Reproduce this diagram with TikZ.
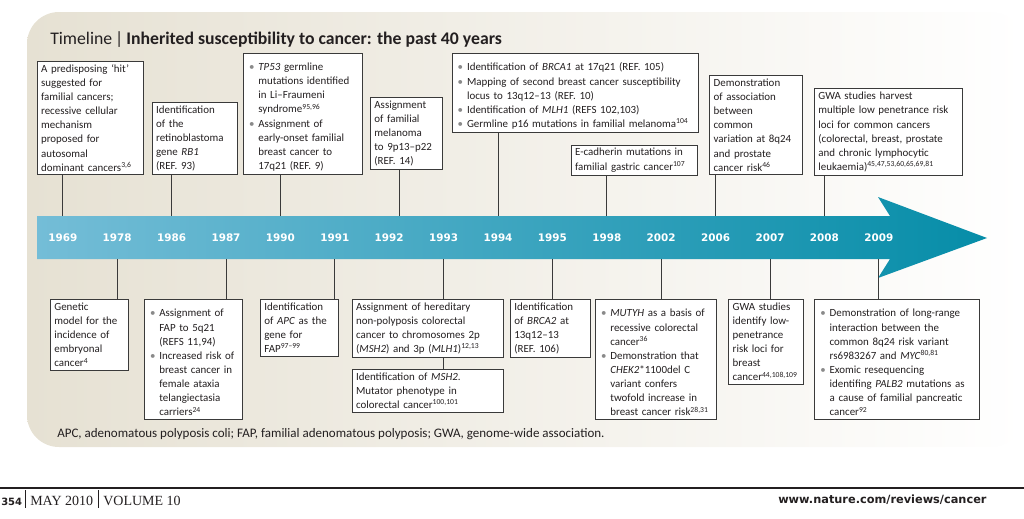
\documentclass[tikz,border=0pt]{standalone}
\usepackage{fontspec}
\usepackage{xcolor}
\usepackage{tikz}
\setmainfont{Carlito}
\newfontfamily\yearfont{DejaVu Sans}
\newfontfamily\footserif{Liberation Serif}
\hyphenpenalty=10000
\exhyphenpenalty=10000

\definecolor{bgbeige}{HTML}{E6E1D3}
\definecolor{bandlight}{HTML}{74BDD7}
\definecolor{banddark}{HTML}{068DA8}
\definecolor{boxline}{HTML}{3A3A3A}
\definecolor{bulgrey}{HTML}{8A8A8A}
\definecolor{textdark}{HTML}{231F20}

% bullet line with hanging indent (use \newline inside an item, \par after the last one)
\newcommand{\bitem}{\par\noindent\hangindent=1em\hangafter=1\makebox[1em][l]{\hspace{0.15em}\textcolor{bulgrey}{\textbullet}}}

\tikzset{
  event/.style={rectangle, draw=boxline, line width=0.6pt, fill=white, inner xsep=3pt, inner ysep=2.5pt, align=left, text=textdark, font=\fontsize{8.2}{10.6}\selectfont},
  link/.style={draw=boxline, line width=0.7pt},
  yearlbl/.style={text=white, font=\yearfont\bfseries\fontsize{7.8}{9}\selectfont}
}

\begin{document}
\begin{tikzpicture}[x=0.75pt, y=-0.75pt]
    \useasboundingbox (0,0) rectangle (1024,518);

    % Background and band
    \shade[left color=bgbeige, right color=white, rounded corners=24pt] (27,12) rectangle (1024,447);
    \shade[left color=bandlight, right color=banddark] (37,216) -- (890,216) -- (878,197) -- (987,238) -- (878,278) -- (890,259) -- (37,259) -- cycle;
    \coordinate (bandtop) at (0,216);
    \coordinate (bandbot) at (0,259);

    % Title
    \node (title) [anchor=base west, inner sep=0pt, text=textdark, font=\fontsize{13.3}{16}\selectfont] at (50,44) {Timeline\,|\,\textbf{Inherited susceptibility to cancer: the past 40 years}};

    % Years
    \foreach \yr [count=\i from 0] in {1969,1978,1986,1987,1990,1991,1992,1993,1994,1995,1998,2002,2006,2007,2008,2009}
        \node (y\yr) [yearlbl] at ({62.8+54.4*\i},238) {\yr};

    % Events above the band
    \node (b1969) [event, anchor=south west, text width=73.7pt] at (36.7,175) {A predisposing ‘hit’\\ suggested for\\ familial cancers;\\ recessive cellular\\ mechanism\\ proposed for\\ autosomal\\ dominant cancers\textsuperscript{3,6}};
    \node (b1986) [event, anchor=south west, text width=57.7pt] at (151.7,175) {Identification\\ of the\\ retinoblastoma\\ gene \textit{RB1}\\ (REF. 93)};
    \node (b1990) [event, anchor=south west, text width=83pt] at (243,175) {\bitem \textit{TP53} germline\newline mutations identified\newline in Li--Fraumeni\newline syndrome\textsuperscript{95,96}\bitem Assignment of\newline early-onset familial\newline breast cancer to\newline 17q21 (REF. 9)\par};
    \node (b1992) [event, anchor=south west, text width=48pt] at (370,170) {Assignment\\ of familial\\ melanoma\\ to 9p13--p22\\ (REF. 14)};
    \node (b1994) [event, anchor=south west, text width=178.7pt] at (451.7,133) {\bitem Identification of \textit{BRCA1} at 17q21 (REF. 105)\bitem Mapping of second breast cancer susceptibility\newline locus to 13q12--13 (REF. 10)\bitem Identification of \textit{MLH1} (REFS 102,103)\bitem Germline p16 mutations in familial melanoma\textsuperscript{104}\par};
    \node (b1998) [event, anchor=south west, text width=88.5pt] at (570.7,175.7) {E-cadherin mutations in\\ familial gastric cancer\textsuperscript{107}};
    \node (b2006) [event, anchor=south west, text width=63.7pt] at (709.3,175) {Demonstration\\ of association\\ between\\ common\\ variation at 8q24\\ and prostate\\ cancer risk\textsuperscript{46}};
    \node (b2008) [event, anchor=south west, text width=104.8pt] at (814,175.7) {GWA studies harvest\\ multiple low penetrance risk\\ loci for common cancers\\ (colorectal, breast, prostate\\ and chronic lymphocytic\\ leukaemia)\textsuperscript{45,47,53,60,65,69,81}};

    % Events below the band
    \node (b1978) [event, anchor=north west, text width=52.7pt] at (50,299) {Genetic\\ model for the\\ incidence of\\ embryonal\\ cancer\textsuperscript{4}};
    \node (b1987) [event, anchor=north west, text width=67.3pt] at (144,299) {\bitem Assignment of\newline FAP to 5q21\newline (REFS 11,94)\bitem Increased risk of\newline breast cancer in\newline female ataxia\newline telangiectasia\newline carriers\textsuperscript{24}\par};
    \node (b1991) [event, anchor=north west, text width=52.3pt] at (260,299) {Identification\\ of \textit{APC} as the\\ gene for\\ FAP\textsuperscript{97--99}};
    \node (b1993a) [event, anchor=north west, text width=107.7pt] at (351.7,299) {Assignment of hereditary\\ non-polyposis colorectal\\ cancer to chromosomes 2p\\ (\textit{MSH2}) and 3p (\textit{MLH1})\textsuperscript{12,13}};
    \node (b1993b) [event, anchor=north west, text width=107.7pt] at (351.7,369) {Identification of \textit{MSH2}.\\ Mutator phenotype in\\ colorectal cancer\textsuperscript{100,101}};
    \node (b1995) [event, anchor=north west, text width=54pt] at (510,299) {Identification\\ of \textit{BRCA2} at\\ 13q12--13\\ (REF. 106)};
    \node (b2002) [event, anchor=north west, text width=84.5pt] at (595,299) {\bitem \textit{MUTYH} as a basis of\newline recessive colorectal\newline cancer\textsuperscript{36}\bitem Demonstration that\newline \textit{CHEK2}*1100del C\newline variant confers\newline twofold increase in\newline breast cancer risk\textsuperscript{28,31}\par};
    \node (b2007) [event, anchor=north west, text width=50.2pt] at (728.3,299) {GWA studies\\ identify low-\\ penetrance\\ risk loci for\\ breast\\ cancer\textsuperscript{44,108,109}};
    \node (b2009) [event, anchor=north west, text width=117.7pt] at (814.3,299) {\bitem Demonstration of long-range\newline interaction between the\newline common 8q24 risk variant\newline rs6983267 and \textit{MYC}\textsuperscript{80,81}\bitem Exomic resequencing\newline identifing \textit{PALB2} mutations as\newline a cause of familial pancreatic\newline cancer\textsuperscript{92}\par};

    % Connectors
    \foreach \yr in {1969,1986,1990,1994,1998,2006,2008}
        \draw[link] (y\yr |- b\yr.south) -- (y\yr |- bandtop);
    \draw[link] ([xshift=7.5pt]y1992 |- b1992.south) -- ([xshift=7.5pt]y1992 |- bandtop);
    \foreach \yr in {1978,1987,1991,1995,2002,2007,2009}
        \draw[link] (y\yr |- bandbot) -- (y\yr |- b\yr.north);
    \draw[link] (y1993 |- bandbot) -- (y1993 |- b1993a.north);
    \draw[link] (y1993 |- b1993a.south) -- (y1993 |- b1993b.north);

    % Footnote and footer
    \node (abbrev) [anchor=west, inner sep=0pt, text=textdark, font=\fontsize{9.75}{12}\selectfont] at (57,434) {APC, adenomatous polyposis coli; FAP, familial adenomatous polyposis; GWA, genome-wide association.};
    \draw[line width=0.8pt, textdark] (0,488) -- (1024,488);
    \node (folio) [anchor=base west, inner sep=0pt, text=textdark] at (1,505) {{\yearfont\bfseries\fontsize{7.5}{9}\selectfont 354}\hspace{2.5pt}\vrule width 0.6pt height 11.5pt depth 2pt\hspace{3pt}{\footserif\fontsize{10.5}{13}\selectfont MAY 2010}\hspace{4pt}\vrule width 0.6pt height 11.5pt depth 2pt\hspace{3pt}{\footserif\fontsize{10.5}{13}\selectfont VOLUME 10}};
    \node (url) [anchor=base west, inner sep=0pt, text=textdark, font=\yearfont\bfseries\fontsize{8.5}{10}\selectfont] at (778,503) {www.nature.com/reviews/cancer};
\end{tikzpicture}
\end{document}
